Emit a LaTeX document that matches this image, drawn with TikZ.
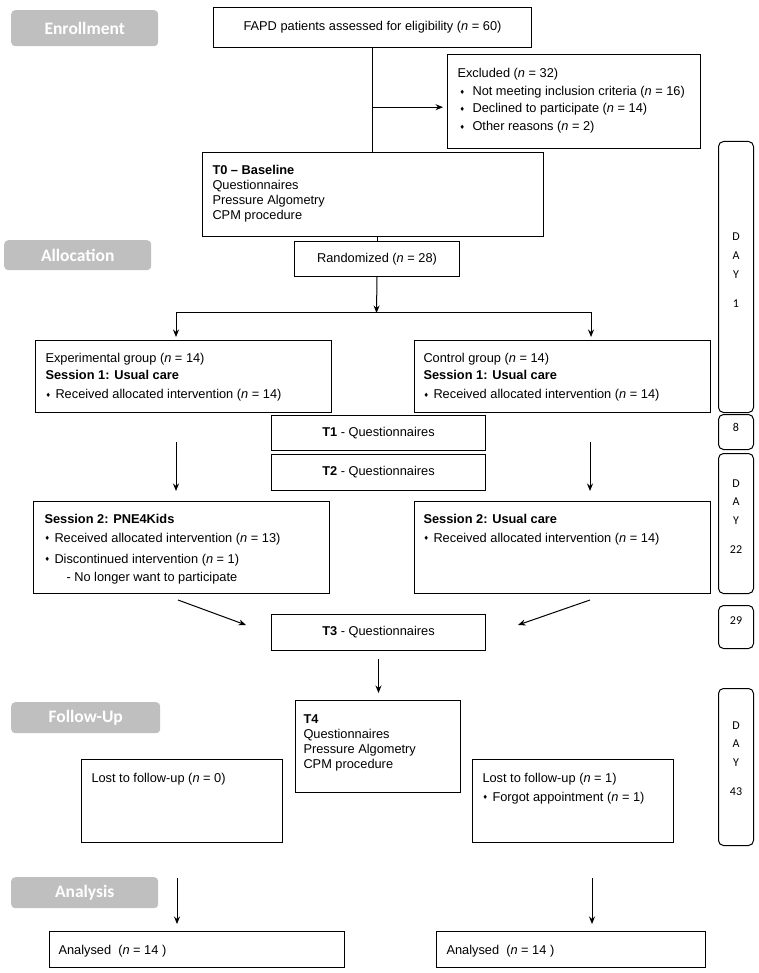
\documentclass[tikz,border=0pt]{standalone}
\usepackage{fontspec}
\setmainfont{Liberation Sans}
\newfontfamily\labfont{Carlito}
\newfontfamily\symfont{DejaVu Sans}
\usetikzlibrary{arrows.meta,calc}
\definecolor{labgray}{RGB}{191,191,191}
\newcommand\bul[1][10pt]{\makebox[#1][l]{\raisebox{1.3pt}{\symfont\fontsize{6}{6}\selectfont ♦}}}
\newcommand\fl{\rule{0pt}{10pt}}
\newcommand\dfl{\rule{0pt}{9pt}}
% W H vspace left baselineskip content
\newcommand\bx[6]{\parbox[c][#2pt][t]{#1pt}{\vspace*{#3pt}\fontsize{12.8}{#5pt}\selectfont\raggedright\leftskip=#4pt\relax\noindent\fl #6\par}}
% W H vspace content
\newcommand\dbx[4]{\parbox[c][#2pt][t]{#1pt}{\vspace*{#3pt}\labfont\fontsize{12}{18.5pt}\selectfont\centering\dfl #4\par}}
\begin{document}
\begin{tikzpicture}[x=1pt,y=-1pt,
  box/.style={draw, line width=1pt, inner sep=0pt, anchor=north west},
  cbox/.style={draw, line width=1pt, inner sep=0pt, anchor=north west, font=\fontsize{12.8}{15}\selectfont},
  lab/.style={fill=labgray, rounded corners=4pt, inner sep=0pt, anchor=north west, text=white, font=\labfont\bfseries\fontsize{17.5}{19}\selectfont},
  day/.style={draw, line width=1pt, rounded corners=5pt, inner sep=0pt, anchor=north west},
  arr/.style={-{Stealth[length=7.5pt,width=6pt]}, line width=1pt},
  ln/.style={line width=1pt}]
\useasboundingbox (0,0) rectangle (759,973);

% stage labels
\node[lab, minimum width=147pt, minimum height=36pt] (lenr) at (11,10) {Enrollment};
\node[lab, minimum width=147pt, minimum height=30pt] (lall) at (4,240) {Allocation};
\node[lab, minimum width=149pt, minimum height=31pt] (lfol) at (11,702) {Follow-Up};
\node[lab, minimum width=147pt, minimum height=31pt] (lana) at (11,877) {Analysis};

% main boxes
\node[cbox, minimum width=318pt, minimum height=40pt] (fapd) at (213,7) {FAPD patients assessed for eligibility (\textit{n} = 60)};
\node[box] (excl) at (447,54) {\bx{253}{94}{13.5}{10}{17.5}{Excluded (\textit{n} = 32)\\
  \hspace*{2pt}\bul[13pt]Not meeting inclusion criteria (\textit{n} = 16)\\
  \hspace*{2pt}\bul[13pt]Declined to participate (\textit{n} = 14)\\
  \hspace*{2pt}\bul[13pt]Other reasons (\textit{n} = 2)}};
\node[box] (t0) at (202,152) {\bx{341}{84}{12.5}{10}{15}{\textbf{T0 – Baseline}\\Questionnaires\\Pressure Algometry\\CPM procedure}};
\node[cbox, minimum width=165pt, minimum height=35pt] (rand) at (294,241) {Randomized (\textit{n} = 28)};

\node[box] (exp) at (35,340) {\bx{296}{72}{12}{10}{16.5}{Experimental group (\textit{n} = 14)\\\textbf{Session 1: Usual care}\\[3pt]\bul Received allocated intervention (\textit{n} = 14)}};
\node[box] (ctrl) at (414,340) {\bx{296}{72}{12}{9}{16.5}{Control group (\textit{n} = 14)\\\textbf{Session 1: Usual care}\\[3pt]\bul Received allocated intervention (\textit{n} = 14)}};

\node[cbox, minimum width=214pt, minimum height=35pt] (t1) at (271,415) {\textbf{T1} - Questionnaires};
\node[cbox, minimum width=214pt, minimum height=36pt] (t2) at (271,454) {\textbf{T2} - Questionnaires};

\node[box] (pne) at (33,501) {\bx{296}{92}{11.5}{11}{19}{\textbf{Session 2: PNE4Kids}\\\bul Received allocated intervention (\textit{n} = 13)\\[2pt]\bul Discontinued intervention (\textit{n} = 1)\\[-1pt]\hspace*{22pt}- No longer want to participate}};
\node[box] (uc) at (414,501) {\bx{296}{92}{11.5}{9}{19}{\textbf{Session 2: Usual care}\\\bul Received allocated intervention (\textit{n} = 14)}};

\node[cbox, minimum width=214pt, minimum height=36pt] (t3) at (271,614) {\textbf{T3} - Questionnaires};
\node[box] (t4) at (295,700) {\bx{165}{92}{12.5}{8}{15}{\textbf{T4}\\Questionnaires\\Pressure Algometry\\CPM procedure}};

\node[box] (lostl) at (81,759) {\bx{201}{83}{12.5}{10}{19}{Lost to follow-up (\textit{n} = 0)}};
\node[box] (lostr) at (472,759) {\bx{201}{83}{12.5}{10}{19}{Lost to follow-up (\textit{n} = 1)\\\bul Forgot appointment (\textit{n} = 1)}};

\node[box] (anl) at (49,931) {\bx{295}{36}{12.5}{9}{15}{Analysed~ (\textit{n} = 14 )}};
\node[box] (anr) at (436,931) {\bx{269}{36}{12.5}{10}{15}{Analysed~ (\textit{n} = 14 )}};

% day boxes
\node[day] (d1) at (718,141) {\dbx{35}{271}{90.5}{D\\A\\Y\\[11pt]1}};
\node[day] (d8) at (718,414) {\dbx{35}{35}{7.5}{8}};
\node[day] (d22) at (718,453) {\dbx{35}{140}{24.5}{D\\A\\Y\\[11pt]22}};
\node[day] (d29) at (718,605) {\dbx{35}{43}{9.5}{29}};
\node[day] (d43) at (718,688) {\dbx{35}{157}{31.5}{D\\A\\Y\\[11pt]43}};

% connectors
\draw[ln] (fapd.south) -- (fapd.south |- t0.north);
\coordinate (exclin) at ($(excl.north west)!0.56!(excl.south west)$);
\draw[arr, shorten >=4pt] (fapd.south |- exclin) -- (exclin);
\draw[ln] (rand.north |- t0.south) -- (rand.north);
\coordinate (split) at (376.5,313);
\coordinate (sl) at (176,312);
\coordinate (sr) at (591,312);
\draw[arr] (rand.south) -- (split);
\draw[ln] (sl) -- (sr);
\draw[arr, shorten >=3pt] (sl) -- (sl |- exp.north);
\draw[arr, shorten >=3pt] (sr) -- (sr |- ctrl.north);
\coordinate (al) at (176,442);
\coordinate (ar) at (590,442);
\draw[arr, shorten >=10pt] (al) -- (al |- pne.north);
\draw[arr, shorten >=10pt] (ar) -- (ar |- uc.north);
\coordinate (dl1) at (178,600);
\coordinate (dl2) at (246,625);
\coordinate (dr1) at (590,600);
\coordinate (dr2) at (518,625);
\draw[arr] (dl1) -- (dl2);
\draw[arr] (dr1) -- (dr2);
\draw[arr, shorten <=8pt, shorten >=7pt] (t3.south) -- (t3.south |- t4.north);
\coordinate (bl) at (177,878);
\coordinate (br) at (592,878);
\draw[arr, shorten >=7pt] (bl) -- (bl |- anl.north);
\draw[arr, shorten >=7pt] (br) -- (br |- anr.north);
\end{tikzpicture}
\end{document}
